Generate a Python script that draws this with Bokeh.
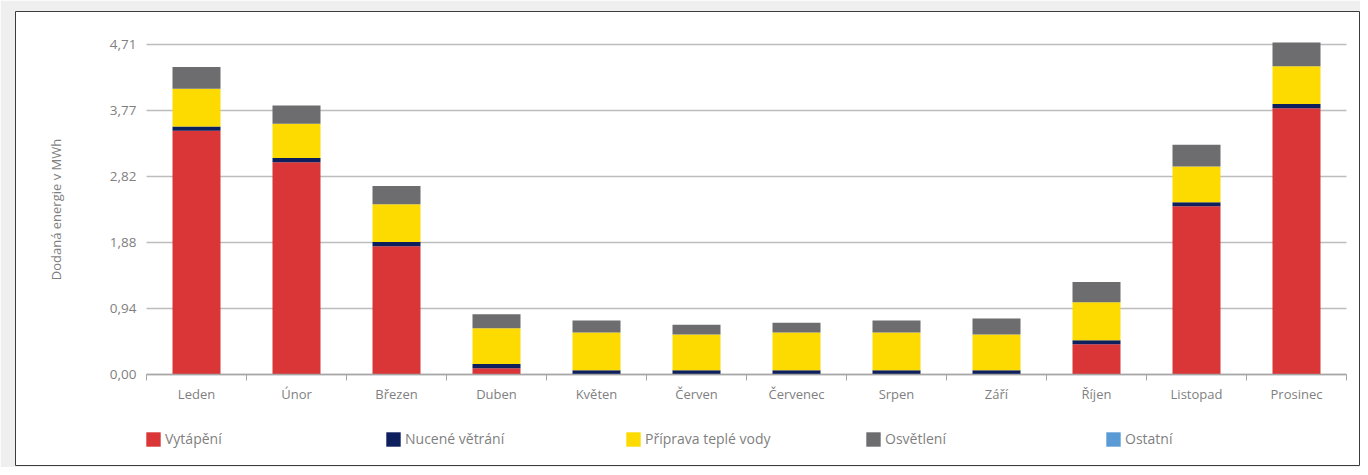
import numpy as np
from bokeh.plotting import figure
from bokeh.models import (ColumnDataSource, FixedTicker, Range1d, Legend, LegendItem)
from bokeh.embed import file_html
from bokeh.resources import INLINE

months = ["Leden", "Únor", "Březen", "Duben", "Květen", "Červen",
          "Červenec", "Srpen", "Září", "Říjen", "Listopad", "Prosinec"]

vytapeni = [3.48, 3.03, 1.83, 0.09, 0.0, 0.0, 0.0, 0.0, 0.0, 0.43, 2.40, 3.80]
nucene_vetrani = [0.06, 0.06, 0.06, 0.06, 0.06, 0.06, 0.06, 0.06, 0.06, 0.06, 0.06, 0.06]
priprava_vody = [0.54, 0.49, 0.54, 0.51, 0.54, 0.51, 0.54, 0.54, 0.51, 0.54, 0.51, 0.54]
osvetleni = [0.31, 0.26, 0.26, 0.20, 0.17, 0.14, 0.14, 0.17, 0.23, 0.29, 0.31, 0.34]
ostatni = [0.0] * 12

series_names = ["Vytápění", "Nucené větrání", "Příprava teplé vody", "Osvětlení", "Ostatní"]
series_colors = ["#DA3537", "#0D1F5C", "#FDDB00", "#6D6D6F", "#5B9BD5"]

y_ticks = [0.0, 0.942, 1.884, 2.826, 3.768, 4.71]
y_tick_labels = ["0,00", "0,94", "1,88", "2,82", "3,77", "4,71"]
y_axis_title = "Dodaná energie v MWh"

FONT = "Open Sans"
TXT = "#7F7F7F"
GRID = "#BDBDBD"

n_cat = len(months)
x_centers = [i + 0.5 for i in range(n_cat)]
keys = ["s0", "s1", "s2", "s3", "s4"]
source = ColumnDataSource(dict(x=x_centers, s0=vytapeni, s1=nucene_vetrani,
                               s2=priprava_vody, s3=osvetleni, s4=ostatni))

# The frame is the white chart box; axes are fixed inside it so nothing is clipped.
p = figure(width=1360, height=467, output_backend="svg", toolbar_location=None,
           x_range=Range1d(-1.31, n_cat + 0.14), y_range=Range1d(-1.2988, 5.1810),
           min_border_left=15, min_border_right=0, min_border_top=11,
           min_border_bottom=2, border_fill_color="#EFEFEF",
           background_fill_color="white",
           outline_line_color="#3C3C3C", outline_line_width=1)

# horizontal grid lines over the category span only
p.segment(x0=0, x1=n_cat, y0=y_ticks, y1=y_ticks, line_color=GRID, line_width=1.5)

renderers = p.vbar_stack(keys, x="x", width=0.48, source=source,
                         fill_color=series_colors, line_color=None)

# x axis: labels at category centers, tick marks between categories
xa = p.xaxis[0]
xa.fixed_location = 0
xa.bounds = (0, n_cat)
xa.ticker = FixedTicker(ticks=x_centers, minor_ticks=list(range(n_cat + 1)))
xa.major_label_overrides = {x: m for x, m in zip(x_centers, months)}
xa.major_tick_line_color = None
xa.major_tick_out = 6
xa.major_tick_in = 0
xa.minor_tick_out = 6
xa.minor_tick_in = 0
xa.minor_tick_line_color = "#A6A6A6"
xa.axis_line_color = "#A6A6A6"
xa.axis_line_width = 1.5
xa.major_label_standoff = 4
xa.major_label_text_font = FONT
xa.major_label_text_font_size = "13px"
xa.major_label_text_color = TXT

ya = p.yaxis[0]
ya.fixed_location = 0
ya.bounds = (0, 4.71)
ya.ticker = FixedTicker(ticks=y_ticks)
ya.major_label_overrides = {t: l for t, l in zip(y_ticks, y_tick_labels)}
ya.axis_line_color = None
ya.major_tick_line_color = None
ya.minor_tick_line_color = None
ya.major_tick_out = 0
ya.major_tick_in = 0
ya.major_label_standoff = 10
ya.major_label_text_font = FONT
ya.major_label_text_font_size = "13.5px"
ya.major_label_text_color = TXT
ya.axis_label = y_axis_title
ya.axis_label_text_font = FONT
ya.axis_label_text_font_size = "13px"
ya.axis_label_text_font_style = "normal"
ya.axis_label_text_color = TXT
ya.axis_label_standoff = 42

p.xgrid.grid_line_color = None
p.ygrid.grid_line_color = None

legend = Legend(items=[LegendItem(label=n, renderers=[r]) for n, r in zip(series_names, renderers)],
                orientation="horizontal", location=(129, 17),
                glyph_width=18, glyph_height=18, label_height=18, label_width=214,
                label_standoff=3, spacing=5, padding=0, margin=0,
                background_fill_alpha=0, border_line_color=None,
                label_text_font=FONT, label_text_font_size="14px",
                label_text_color=TXT)
p.add_layout(legend, "center")

open("out.html", "w").write(file_html(p, INLINE))
